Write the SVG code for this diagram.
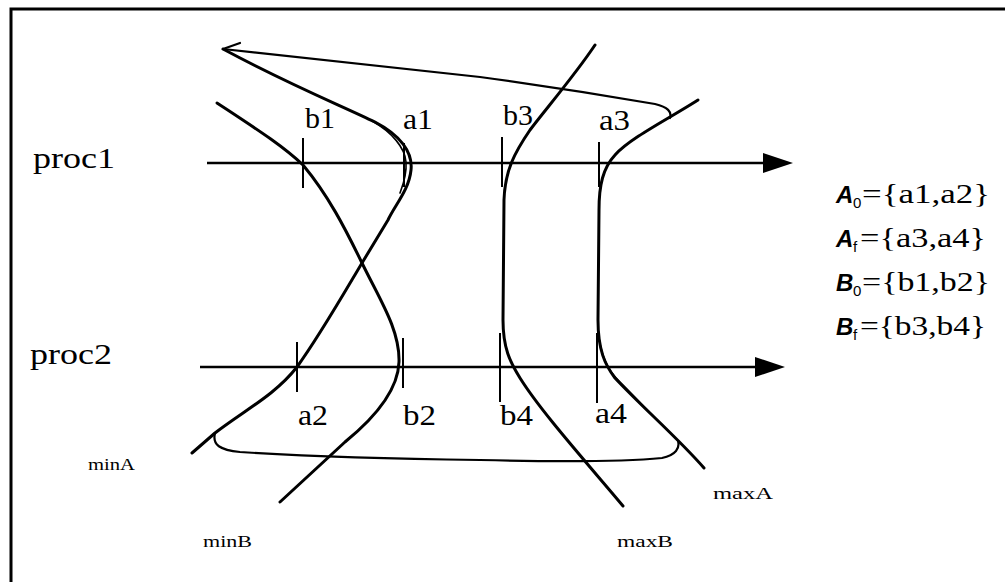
<svg xmlns="http://www.w3.org/2000/svg" width="1005" height="582" viewBox="0 0 1005 582">
<style>
.frame{fill:none;stroke:#000;stroke-width:3}
.axis{fill:none;stroke:#000;stroke-width:2.5}
.curve{fill:none;stroke:#000;stroke-width:3;stroke-linecap:round;stroke-linejoin:round}
.thin{fill:none;stroke:#000;stroke-width:1.6;stroke-linecap:round}
.loop{fill:none;stroke:#000;stroke-width:2.2;stroke-linecap:round;stroke-linejoin:round}
.tick{fill:none;stroke:#000;stroke-width:2}
.lbl{font-family:"Liberation Serif","Times New Roman",serif;font-size:30px;fill:#000}
.small{font-family:"Liberation Serif","Times New Roman",serif;font-size:17px;fill:#000}
.set{font-family:"Liberation Sans",Arial,sans-serif;font-size:24px;font-weight:bold;font-style:italic;fill:#000}
.sub{font-family:"Liberation Sans",Arial,sans-serif;font-size:15px;fill:#000}
.leg{font-family:"Liberation Serif","Times New Roman",serif;font-size:28px;fill:#000}
</style>
<rect width="1005" height="582" fill="#fff"/>
<path class="frame" d="M11,582 L11,9 L1005,9"/>

<g id="connectors">
  <g id="proc1-axis">
    <path class="axis" d="M207,163 L770,163"/>
    <polygon points="793,163 763,153 763,173" fill="#000"/>
  </g>
  <g id="proc2-axis">
    <path class="axis" d="M200,367 L762,367"/>
    <polygon points="785,367 755,357 755,377" fill="#000"/>
  </g>
  <g id="minA-curve">
    <path class="curve" d="M223,49 C290,85 340,105 375,122 C400,135 413,152 411,170 C409,190 395,205 388,220 L362,263 C340,300 320,335 297,367 C275,395 245,410 215,433 L192,453"/>
    <path class="thin" d="M372,121 C392,132 405,148 406,162 C407,175 403,185 400,193"/>
    <path class="loop" d="M240,43 L223,49"/>
  </g>
  <g id="minB-curve">
    <path class="curve" d="M217,103 C258,130 283,146 303,165 C328,195 345,228 362,263 C380,300 400,330 399,362 C398,392 372,420 345,442 L280,502"/>
  </g>
  <g id="maxB-curve">
    <path class="curve" d="M595,45 C575,75 545,110 530,130 C515,152 505,170 504,200 L503,320 C503,348 510,362 520,378 C540,410 580,455 623,506"/>
  </g>
  <g id="maxA-curve">
    <path class="curve" d="M698,100 C670,118 630,138 615,155 C603,168 599,185 599,210 L598,320 C598,350 605,365 615,378 C640,405 680,440 704,468"/>
    <path class="thin" d="M598,330 C600,350 605,368 620,382 C628,390 636,398 645,408"/>
  </g>
  <g id="top-loop">
    <path class="loop" d="M223,49 L480,77 C560,88 620,98 655,104 C668,107 672,112 670,118"/>
  </g>
  <g id="bottom-loop">
    <path class="loop" d="M215,433 C212,445 220,450 240,452 C300,456 400,459 480,460 C560,462 620,462 662,458 C676,455 680,448 678,441"/>
  </g>
</g>

<g id="ticks">
  <path class="tick" d="M303,138 L303,188"/>
  <path class="tick" d="M404,143 L404,187"/>
  <path class="tick" d="M502,137 L502,187"/>
  <path class="tick" d="M599,142 L599,187"/>
  <path class="tick" d="M297,342 L297,392"/>
  <path class="tick" d="M403,338 L403,388"/>
  <path class="tick" d="M500,333 L500,402"/>
  <path class="tick" d="M597,333 L597,403"/>
</g>

<g id="labels">
  <text class="lbl" x="33" y="168" textLength="82" lengthAdjust="spacingAndGlyphs">proc1</text>
  <text class="lbl" x="30" y="364" textLength="82" lengthAdjust="spacingAndGlyphs">proc2</text>
  <text class="lbl" x="305" y="128" textLength="30" lengthAdjust="spacingAndGlyphs">b1</text>
  <text class="lbl" x="403" y="129" textLength="30" lengthAdjust="spacingAndGlyphs">a1</text>
  <text class="lbl" x="503" y="125" textLength="30" lengthAdjust="spacingAndGlyphs">b3</text>
  <text class="lbl" x="599" y="130" textLength="31" lengthAdjust="spacingAndGlyphs">a3</text>
  <text class="lbl" x="298" y="425" textLength="30" lengthAdjust="spacingAndGlyphs">a2</text>
  <text class="lbl" x="403" y="425" textLength="33" lengthAdjust="spacingAndGlyphs">b2</text>
  <text class="lbl" x="500" y="425" textLength="33" lengthAdjust="spacingAndGlyphs">b4</text>
  <text class="lbl" x="595" y="423" textLength="32" lengthAdjust="spacingAndGlyphs">a4</text>
  <text class="small" x="88" y="470" textLength="47" lengthAdjust="spacingAndGlyphs">minA</text>
  <text class="small" x="203" y="547" textLength="49" lengthAdjust="spacingAndGlyphs">minB</text>
  <text class="small" x="617" y="547" textLength="56" lengthAdjust="spacingAndGlyphs">maxB</text>
  <text class="small" x="713" y="499" textLength="60" lengthAdjust="spacingAndGlyphs">maxA</text>
</g>

<g id="legend">
  <g id="A0"><text class="set" x="836" y="203">A</text><text class="sub" x="853" y="208">0</text><text class="leg" x="862" y="203" textLength="128" lengthAdjust="spacingAndGlyphs">={a1,a2}</text></g>
  <g id="Af"><text class="set" x="836" y="247">A</text><text class="sub" x="853" y="252">f</text><text class="leg" x="860" y="247" textLength="126" lengthAdjust="spacingAndGlyphs">={a3,a4}</text></g>
  <g id="B0"><text class="set" x="836" y="291">B</text><text class="sub" x="853" y="296">0</text><text class="leg" x="862" y="291" textLength="128" lengthAdjust="spacingAndGlyphs">={b1,b2}</text></g>
  <g id="Bf"><text class="set" x="836" y="335">B</text><text class="sub" x="853" y="340">f</text><text class="leg" x="860" y="335" textLength="126" lengthAdjust="spacingAndGlyphs">={b3,b4}</text></g>
</g>
</svg>
